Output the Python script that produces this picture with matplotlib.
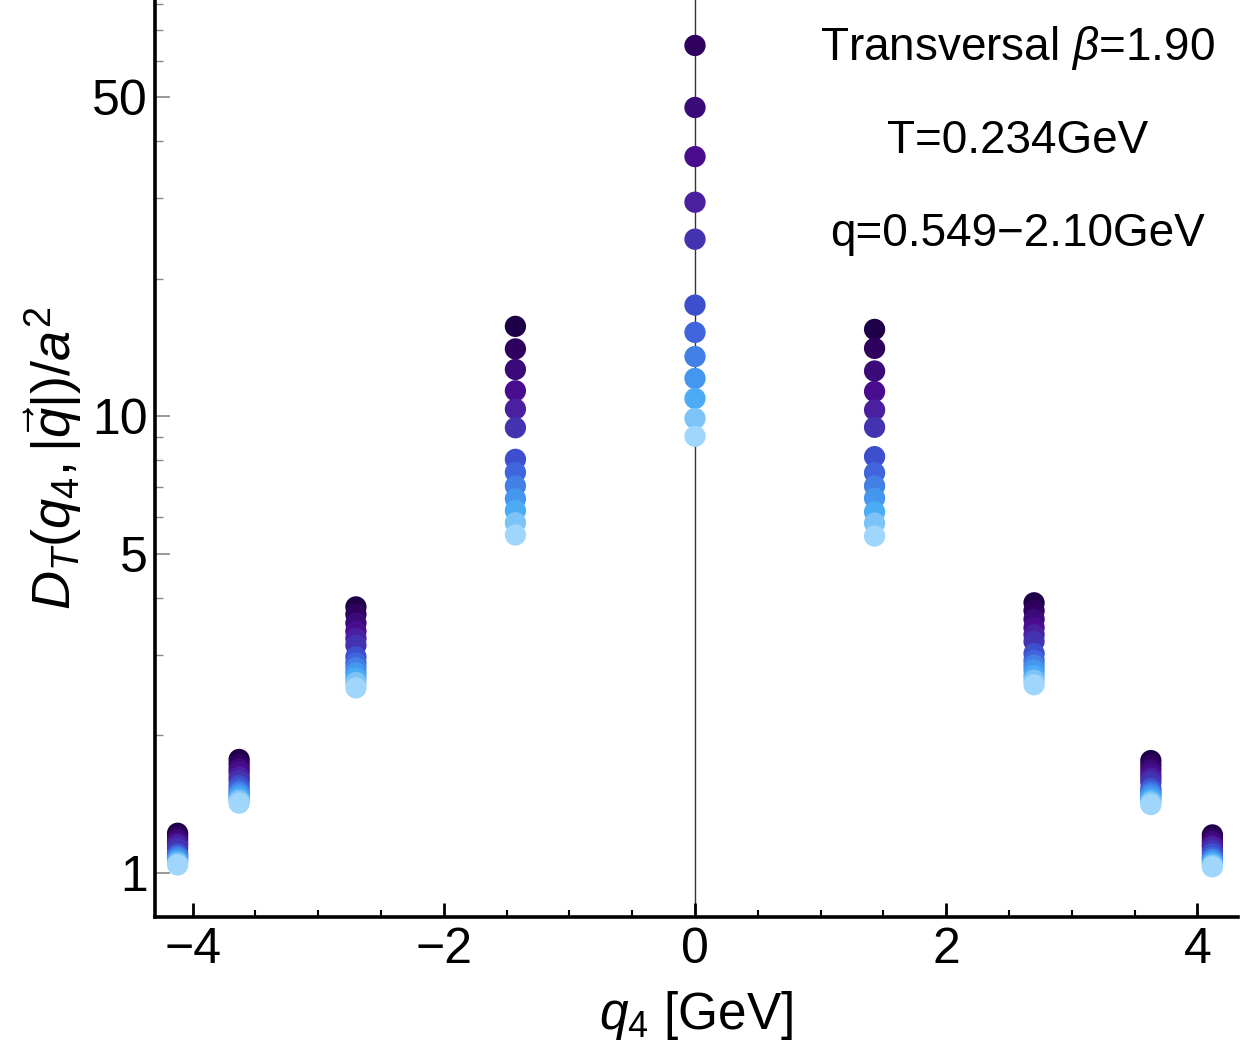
import numpy as np
import matplotlib
matplotlib.use("Agg")
import matplotlib.pyplot as plt
from matplotlib.ticker import FixedLocator, NullFormatter, FixedFormatter

plt.rcParams['font.family'] = ['Liberation Sans', 'DejaVu Sans']
plt.rcParams['mathtext.fontset'] = 'custom'
plt.rcParams['mathtext.rm'] = 'Liberation Sans'
plt.rcParams['mathtext.it'] = 'Liberation Sans:italic'
plt.rcParams['mathtext.bf'] = 'Liberation Sans:bold'

# q4 positions of the columns [GeV]
q4_values = [-4.12, -3.63, -2.70, -1.43, 0.0, 1.43, 2.70, 3.63, 4.12]

# D_T / a^2 for each q4 column, one entry per spatial momentum (q = 0.549 ... 2.10 GeV)
d_m412 = [1.22, 1.20, 1.18, 1.16, 1.15, 1.13, 1.10, 1.09, 1.08, 1.07, 1.06, 1.05, 1.04]
d_m363 = [1.77, 1.73, 1.69, 1.66, 1.62, 1.59, 1.55, 1.52, 1.50, 1.48, 1.46, 1.44, 1.42]
d_m270 = [3.82, 3.68, 3.52, 3.38, 3.26, 3.15, 2.97, 2.88, 2.81, 2.74, 2.67, 2.61, 2.54]
d_m143 = [15.72, 14.03, 12.65, 11.36, 10.36, 9.43, 8.04, 7.53, 7.03, 6.59, 6.21, 5.84, 5.49]
d_0 = [np.nan, 64.8, 47.4, 37.0, 29.4, 24.4, 17.5, 15.25, 13.5, 12.09, 10.93, 9.88, 9.03]
d_p143 = [15.48, 14.07, 12.55, 11.32, 10.31, 9.45, 8.15, 7.51, 7.03, 6.61, 6.17, 5.83, 5.46]
d_p270 = [3.90, 3.75, 3.59, 3.44, 3.32, 3.21, 3.02, 2.92, 2.85, 2.78, 2.70, 2.64, 2.58]
d_p363 = [1.76, 1.72, 1.68, 1.64, 1.61, 1.58, 1.53, 1.51, 1.49, 1.47, 1.45, 1.43, 1.41]
d_p412 = [1.21, 1.19, 1.17, 1.15, 1.14, 1.12, 1.10, 1.08, 1.07, 1.06, 1.05, 1.04, 1.03]

columns = [d_m412, d_m363, d_m270, d_m143, d_0, d_p143, d_p270, d_p363, d_p412]

series_colors = ['#1e0048', '#30005f', '#3a0a78', '#4a0c8e', '#4a1fa0', '#4433b0',
                 '#3d4fcc', '#3f64dc', '#4380e6', '#4596ee', '#4cabf5', '#7cc4f8', '#a0d6fb']

y_major = [1, 5, 10, 50]
y_major_labels = ['1', '5', '10', '50']
y_minor = [2, 3, 4, 6, 7, 8, 9, 20, 30, 40, 60, 70, 80]
x_major = [-4, -2, 0, 2, 4]
x_major_labels = ['\u22124', '\u22122', '0', '2', '4']
x_minor = [-3.5, -3, -2.5, -1.5, -1, -0.5, 0.5, 1, 1.5, 2.5, 3, 3.5]

annot_lines = [r'Transversal $\beta$=1.90', 'T=0.234GeV', 'q=0.549\u22122.10GeV']

fig = plt.figure(figsize=(12.5, 10.42), dpi=100)
ax = fig.add_axes([0.124, 0.12, 0.866, 0.88])

ax.axvline(0, color='#333333', lw=1.0, zorder=1)

data = np.array(columns)  # shape (n_q4, n_series)
for i, col in enumerate(series_colors):
    ax.scatter(q4_values, data[:, i], s=235, color=col, edgecolors='none', zorder=3 + i)

ax.set_yscale('log')
ax.set_xlim(-4.30, 4.32)
ax.set_ylim(0.80, 81.5)

ax.yaxis.set_major_locator(FixedLocator(y_major))
ax.yaxis.set_major_formatter(FixedFormatter(y_major_labels))
ax.yaxis.set_minor_locator(FixedLocator(y_minor))
ax.yaxis.set_minor_formatter(NullFormatter())
ax.xaxis.set_major_locator(FixedLocator(x_major))
ax.xaxis.set_major_formatter(FixedFormatter(x_major_labels))
ax.xaxis.set_minor_locator(FixedLocator(x_minor))

for s in ['top', 'right']:
    ax.spines[s].set_visible(False)
for s in ['left', 'bottom']:
    ax.spines[s].set_linewidth(2.6)
    ax.spines[s].set_color('black')

ax.tick_params(axis='both', which='both', direction='in', labelsize=36)
ax.tick_params(axis='y', which='major', length=11, width=1.2, color='#888888', pad=5)
ax.tick_params(axis='y', which='minor', length=6, width=1.0, color='#888888')
ax.tick_params(axis='x', which='major', length=10, width=2.0, color='black', pad=7)
ax.tick_params(axis='x', which='minor', length=5, width=1.5, color='black')

ax.set_xlabel(r'$q_4$ [GeV]', fontsize=37, labelpad=12)
ax.set_ylabel(r'$D_T(q_4,|\vec{q}|)/a^2$', fontsize=39, labelpad=6)

for k, line in enumerate(annot_lines):
    ax.text(0.797, 0.948 - 0.1015 * k, line, transform=ax.transAxes,
            ha='center', va='center', fontsize=33)

fig.savefig('out.png', dpi=100)
